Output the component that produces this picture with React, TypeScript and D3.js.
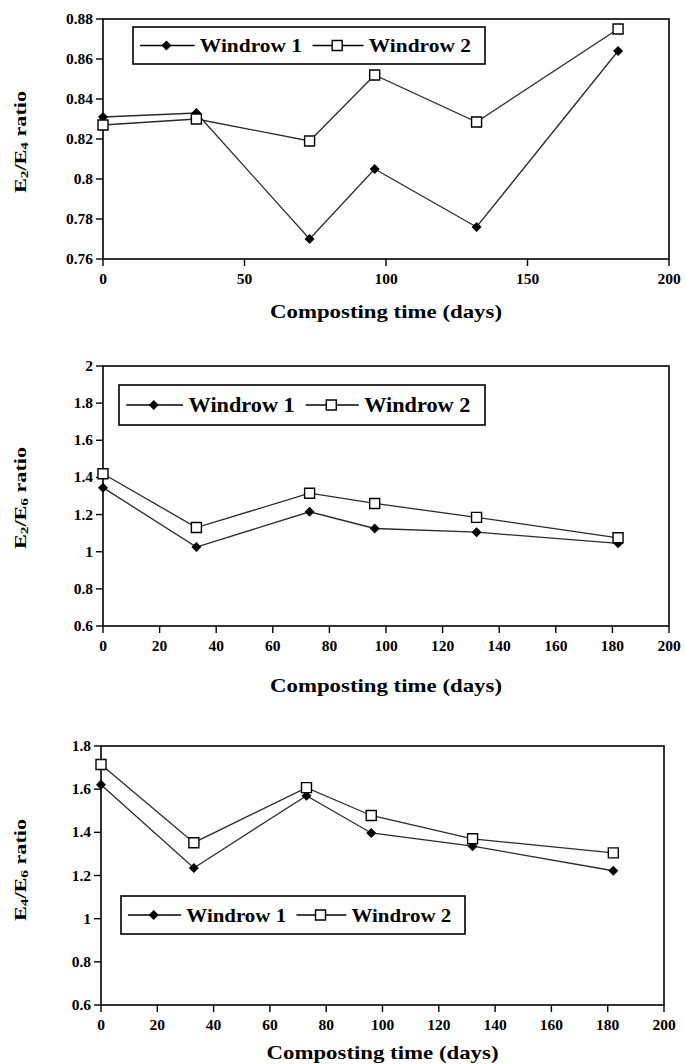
import React from 'react';
import * as d3 from 'd3';

// composting days (same sampling for every panel)
const days = [0, 33, 73, 96, 132, 182];

// E2/E4 ratio
const e2e4W1 = [0.831, 0.833, 0.770, 0.805, 0.776, 0.864];
const e2e4W2 = [0.827, 0.830, 0.819, 0.852, 0.8285, 0.875];
// E2/E6 ratio
const e2e6W1 = [1.345, 1.025, 1.215, 1.125, 1.105, 1.045];
const e2e6W2 = [1.42, 1.13, 1.315, 1.26, 1.185, 1.075];
// E4/E6 ratio
const e4e6W1 = [1.62, 1.235, 1.57, 1.397, 1.336, 1.222];
const e4e6W2 = [1.714, 1.352, 1.607, 1.478, 1.37, 1.305];

const e2e4Ticks = [0.76, 0.78, 0.8, 0.82, 0.84, 0.86, 0.88];
const e2e6Ticks = [0.6, 0.8, 1, 1.2, 1.4, 1.6, 1.8, 2];
const e4e6Ticks = [0.6, 0.8, 1, 1.2, 1.4, 1.6, 1.8];
const coarseDayTicks = [0, 50, 100, 150, 200];
const fineDayTicks = [0, 20, 40, 60, 80, 100, 120, 140, 160, 180, 200];

const seriesNames = ['Windrow 1', 'Windrow 2'];
const xTitle = 'Composting time (days)';

const FONT = "'Liberation Serif', 'Times New Roman', Times, serif";

const diamond = d3.symbol(d3.symbolSquare, 50)();
const square = d3.symbol(d3.symbolSquare, 100)();

type Box = { left: number; right: number; top: number; bottom: number };
type Leg = { x: number; y: number; w: number; h: number; fs: number };

function Marker({ x, y, kind }: { x: number; y: number; kind: number }) {
  if (kind === 0) {
    return <path d={diamond!} transform={`translate(${x},${y}) rotate(45)`} fill="#000" />;
  }
  return <path d={square!} transform={`translate(${x},${y})`} fill="#fff" stroke="#000" strokeWidth={1.4} />;
}

function Panel(props: {
  box: Box;
  yDomain: [number, number];
  yTicks: number[];
  xTicks: number[];
  w1: number[];
  w2: number[];
  sub: [string, string];
  yTitleY: number;
  xTitleY: number;
  legend: Leg;
}) {
  const { box, yDomain, yTicks, xTicks, w1, w2, sub, yTitleY, xTitleY, legend } = props;
  const x = d3.scaleLinear().domain([0, 200]).range([box.left, box.right]);
  const y = d3.scaleLinear().domain(yDomain).range([box.bottom, box.top]);
  const line = d3.line<number>().x((d, i) => x(days[i])).y(d => y(d));
  const series = [w1, w2];
  const midX = (box.left + box.right) / 2;
  const lg = legend;
  const cy = lg.y + lg.h / 2;
  const itemX = [
    { l0: 0.02, l1: 0.175, m: 0.095, t: 0.19 },
    { l0: 0.51, l1: 0.655, m: 0.58, t: 0.67 },
  ];
  return (
    <g style={{ fontFamily: FONT, fontWeight: 'bold' }} fill="#000">
      {/* frame */}
      <rect x={box.left} y={box.top} width={box.right - box.left} height={box.bottom - box.top}
        fill="none" stroke="#000" strokeWidth={1.6} />
      {/* y ticks */}
      {yTicks.map(t => (
        <g key={'y' + t}>
          <line x1={box.left - 7} x2={box.left} y1={y(t)} y2={y(t)} stroke="#000" strokeWidth={1.4} />
          <text x={box.left - 10} y={y(t) + 5} textAnchor="end" fontSize={15.5}>{String(t)}</text>
        </g>
      ))}
      {/* x ticks */}
      {xTicks.map(t => (
        <g key={'x' + t}>
          <line x1={x(t)} x2={x(t)} y1={box.bottom} y2={box.bottom + 7} stroke="#000" strokeWidth={1.4} />
          <text x={x(t)} y={box.bottom + 25} textAnchor="middle" fontSize={15.5}>{String(t)}</text>
        </g>
      ))}
      <text x={midX} y={xTitleY} textAnchor="middle" fontSize={19} textLength={232}
        lengthAdjust="spacingAndGlyphs">{xTitle}</text>
      <text transform={`translate(26,${yTitleY}) rotate(-90)`} textAnchor="middle" fontSize={16}
        textLength={102} lengthAdjust="spacingAndGlyphs">
        E<tspan fontSize={11} dy={2}>{sub[0]}</tspan><tspan dy={-2}>/E</tspan>
        <tspan fontSize={11} dy={2}>{sub[1]}</tspan><tspan dy={-2}> ratio</tspan>
      </text>
      {/* series */}
      {series.map((s, k) => (
        <g key={'s' + k}>
          <path d={line(s)!} fill="none" stroke="#2a2a2a" strokeWidth={1.3} />
          {s.map((v, i) => <Marker key={i} x={x(days[i])} y={y(v)} kind={k} />)}
        </g>
      ))}
      {/* legend */}
      <rect x={lg.x} y={lg.y} width={lg.w} height={lg.h} fill="#fff" stroke="#000" strokeWidth={1.6} />
      {itemX.map((it, k) => (
        <g key={'l' + k}>
          <line x1={lg.x + it.l0 * lg.w} x2={lg.x + it.l1 * lg.w} y1={cy} y2={cy} stroke="#000" strokeWidth={1.4} />
          <Marker x={lg.x + it.m * lg.w} y={cy} kind={k} />
          <text x={lg.x + it.t * lg.w} y={cy + 6.5} fontSize={lg.fs} textLength={lg.w * 0.29}
            lengthAdjust="spacingAndGlyphs">{seriesNames[k]}</text>
        </g>
      ))}
    </g>
  );
}

export default function App() {
  return (
    <svg width={685} height={1064} style={{ position: 'absolute', left: 0, top: 0, background: '#fff' }}>
      <rect width={685} height={1064} fill="#fff" />
      <Panel
        box={{ left: 103, right: 669, top: 19, bottom: 259 }}
        yDomain={[0.76, 0.88]} yTicks={e2e4Ticks} xTicks={coarseDayTicks}
        w1={e2e4W1} w2={e2e4W2} sub={['2', '4']} yTitleY={142} xTitleY={318}
        legend={{ x: 133, y: 27, w: 352, h: 37, fs: 19 }}
      />
      <Panel
        box={{ left: 103, right: 669, top: 366, bottom: 626 }}
        yDomain={[0.6, 2]} yTicks={e2e6Ticks} xTicks={fineDayTicks}
        w1={e2e6W1} w2={e2e6W2} sub={['2', '6']} yTitleY={498} xTitleY={692}
        legend={{ x: 119, y: 385, w: 366, h: 40, fs: 20 }}
      />
      <Panel
        box={{ left: 101, right: 664, top: 746, bottom: 1005 }}
        yDomain={[0.6, 1.8]} yTicks={e4e6Ticks} xTicks={fineDayTicks}
        w1={e4e6W1} w2={e4e6W2} sub={['4', '6']} yTitleY={870} xTitleY={1059}
        legend={{ x: 121, y: 896, w: 344, h: 38, fs: 19 }}
      />
    </svg>
  );
}
